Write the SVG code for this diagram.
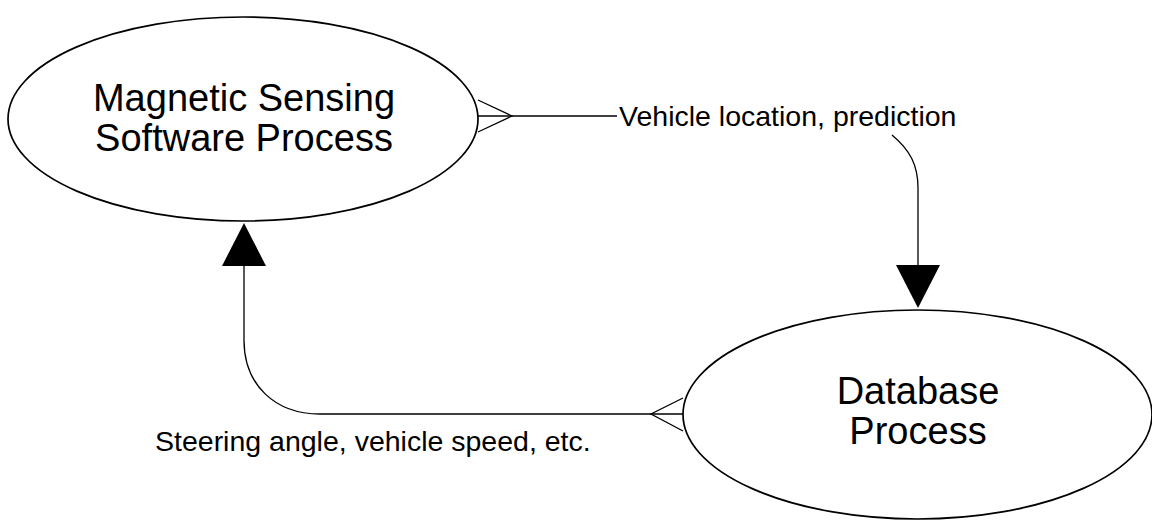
<svg xmlns="http://www.w3.org/2000/svg" width="1152" height="521" viewBox="0 0 1152 521">
  <style>
    .node { fill: #ffffff; stroke: #000000; stroke-width: 1.7; }
    .ntext { font-family: "Liberation Sans", Arial, sans-serif; font-size: 38px; fill: #000000; text-anchor: middle; }
    .ltext { font-family: "Liberation Sans", Arial, sans-serif; font-size: 28.5px; fill: #000000; }
    .conn { fill: none; stroke: #000000; stroke-width: 1.3; }
    .head { fill: #000000; stroke: none; }
  </style>
  <rect x="0" y="0" width="1152" height="521" fill="#ffffff"/>
  <g id="connectors">
    <!-- top connector: crow's foot at Magnetic Sensing, arrow into Database -->
    <path class="conn" d="M478,116 L617,116"/>
    <path class="conn" d="M478,100 L512,116 L478,132"/>
    <path class="conn" d="M892,135 C910,150 918,165 918,188 L918,266"/>
    <polygon class="head" points="896,265 940,265 918,308"/>
    <!-- bottom connector: crow's foot at Database, arrow into Magnetic Sensing -->
    <path class="conn" d="M683,414 L320,414 C275,414 244,385 244,340 L244,266"/>
    <path class="conn" d="M683,398 L651,414 L683,431"/>
    <polygon class="head" points="222,266 266,266 244,223"/>
  </g>
  <g id="edge-label-1">
    <text class="ltext" x="619" y="126">Vehicle location, prediction</text>
  </g>
  <g id="edge-label-2">
    <text class="ltext" x="155" y="451">Steering angle, vehicle speed, etc.</text>
  </g>
  <g id="node-magnetic">
    <ellipse class="node" cx="243" cy="119" rx="235" ry="102"/>
    <text class="ntext" x="244" y="111">Magnetic Sensing</text>
    <text class="ntext" x="244" y="151">Software Process</text>
  </g>
  <g id="node-database">
    <ellipse class="node" cx="917.5" cy="414.5" rx="234.5" ry="104.5"/>
    <text class="ntext" x="918" y="404">Database</text>
    <text class="ntext" x="918" y="444">Process</text>
  </g>
</svg>
